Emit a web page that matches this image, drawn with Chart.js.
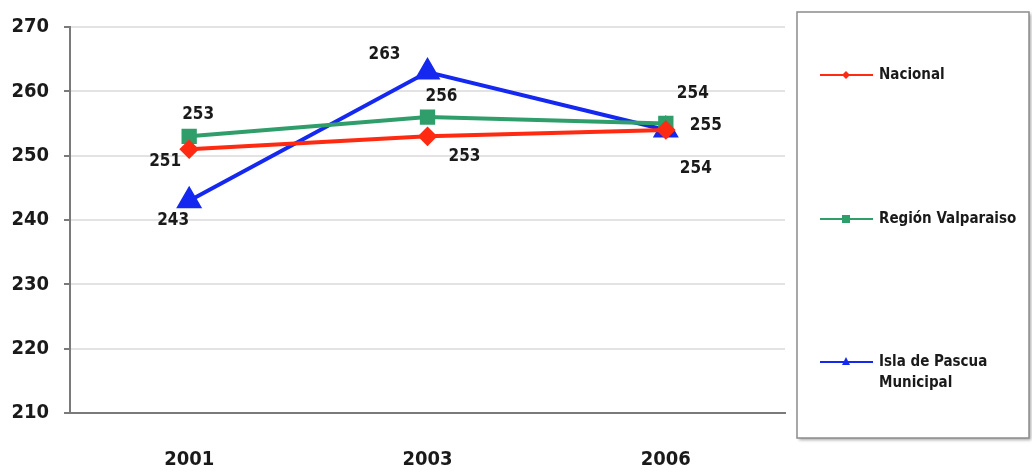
<!DOCTYPE html>
<html>
<head>
<meta charset="utf-8">
<script src="https://cdn.jsdelivr.net/npm/chart.js@4/dist/chart.umd.min.js"></script>
<style>
  html, body { margin: 0; padding: 0; background: #ffffff; }
  #wrap { width: 1032px; height: 473px; position: relative; }
</style>
</head>
<body>
<div id="wrap"><canvas id="c" width="1032" height="473"></canvas></div>
<script>
// Years on the x axis
const years = ['2001', '2003', '2006'];

// Average scores per series
const nacional = [251, 253, 254];
const regionValparaiso = [253, 256, 255];
const islaDePascua = [243, 263, 254];

// Series names (the last one wraps to two lines in the legend)
const seriesNames = ['Nacional', 'Región Valparaiso', ['Isla de Pascua', 'Municipal']];

// Y axis range and step
const yMin = 210, yMax = 270, yStep = 10;

const FONT = '"DejaVu Sans Condensed", "Liberation Sans Narrow", "Arial Narrow", "Liberation Sans", Arial, sans-serif';

// Where each value label sits relative to its point (dx, dy in px)
const labelOffsets = [
  [[-24, 12], [37, 20], [27, -36]],
  [[9, -22], [14, -20], [40, 2]],
  [[-16, 20], [-43, -17], [30, 39]]
];

const valueLabels = {
  id: 'valueLabels',
  afterDatasetsDraw(chart) {
    const ctx = chart.ctx;
    ctx.save();
    ctx.font = 'bold 17px ' + FONT;
    ctx.fillStyle = '#1a1a1a';
    ctx.textAlign = 'center';
    ctx.textBaseline = 'middle';
    chart.data.datasets.forEach((ds, di) => {
      const meta = chart.getDatasetMeta(di);
      meta.data.forEach((pt, i) => {
        const off = labelOffsets[di][i];
        ctx.fillText(String(ds.data[i]), pt.x + off[0], pt.y + off[1]);
      });
    });
    ctx.restore();
  }
};

// Framed legend on the right, one entry per series, spread vertically
const boxLegend = {
  id: 'boxLegend',
  afterDraw(chart) {
    const ctx = chart.ctx;
    const bx = 797, by = 12, bw = 232, bh = 426;
    ctx.save();
    ctx.shadowColor = 'rgba(0,0,0,0.35)';
    ctx.shadowBlur = 3;
    ctx.shadowOffsetX = 2;
    ctx.shadowOffsetY = 2;
    ctx.fillStyle = '#ffffff';
    ctx.fillRect(bx, by, bw, bh);
    ctx.shadowColor = 'transparent';
    ctx.strokeStyle = '#8c8c8c';
    ctx.lineWidth = 1.5;
    ctx.strokeRect(bx, by, bw, bh);
    const rows = [75, 219, 362];
    chart.data.datasets.forEach((ds, di) => {
      const y = rows[di];
      ctx.strokeStyle = ds.borderColor;
      ctx.lineWidth = 2;
      ctx.beginPath();
      ctx.moveTo(820, y);
      ctx.lineTo(873, y);
      ctx.stroke();
      ctx.fillStyle = ds.borderColor;
      const mx = 846;
      ctx.beginPath();
      if (ds.pointStyle === 'rectRot') {
        ctx.moveTo(mx, y - 4); ctx.lineTo(mx + 4, y); ctx.lineTo(mx, y + 4); ctx.lineTo(mx - 4, y);
      } else if (ds.pointStyle === 'rect') {
        ctx.rect(mx - 4, y - 4, 8, 8);
      } else {
        ctx.moveTo(mx, y - 5); ctx.lineTo(mx + 4, y + 3); ctx.lineTo(mx - 4, y + 3);
      }
      ctx.closePath();
      ctx.fill();
      ctx.fillStyle = '#1a1a1a';
      ctx.font = 'bold 15px ' + FONT;
      ctx.textAlign = 'left';
      ctx.textBaseline = 'middle';
      const lines = Array.isArray(ds.label) ? ds.label : [ds.label];
      lines.forEach((t, k) => ctx.fillText(t, 879, y + k * 21));
    });
    ctx.restore();
  }
};

new Chart(document.getElementById('c'), {
  type: 'line',
  data: {
    labels: years,
    datasets: [
      {
        label: seriesNames[0],
        data: nacional,
        borderColor: '#ff2a12',
        backgroundColor: '#ff2a12',
        borderWidth: 4,
        pointStyle: 'rectRot',
        pointRadius: 7,
        tension: 0
      },
      {
        label: seriesNames[1],
        data: regionValparaiso,
        borderColor: '#2f9e6b',
        backgroundColor: '#2f9e6b',
        borderWidth: 4,
        pointStyle: 'rect',
        pointRadius: 8,
        tension: 0
      },
      {
        label: seriesNames[2],
        data: islaDePascua,
        borderColor: '#1428f0',
        backgroundColor: '#1428f0',
        borderWidth: 4,
        pointStyle: 'triangle',
        pointRadius: 11,
        tension: 0
      }
    ]
  },
  options: {
    responsive: false,
    animation: false,
    layout: { padding: { left: 0, right: 247, top: 24, bottom: 0 } },
    plugins: {
      legend: { display: false },
      tooltip: { enabled: false }
    },
    scales: {
      x: {
        offset: true,
        grid: { display: false, drawTicks: false },
        border: { display: true, color: '#7a7a7a', width: 2 },
        ticks: {
          padding: 35,
          color: '#1a1a1a',
          font: { family: FONT, size: 20, weight: 'bold' }
        },
        afterFit(scale) { scale.height = 60; }
      },
      y: {
        min: yMin,
        max: yMax,
        grid: { color: '#e3e3e3', lineWidth: 2, tickLength: 6, tickColor: '#7a7a7a', tickWidth: 2 },
        border: { display: true, color: '#7a7a7a', width: 2 },
        ticks: {
          stepSize: yStep,
          padding: 15,
          color: '#1a1a1a',
          font: { family: FONT, size: 20, weight: 'bold' }
        },
        afterFit(scale) { scale.width = 70; }
      }
    }
  },
  plugins: [valueLabels, boxLegend]
});
</script>
</body>
</html>
